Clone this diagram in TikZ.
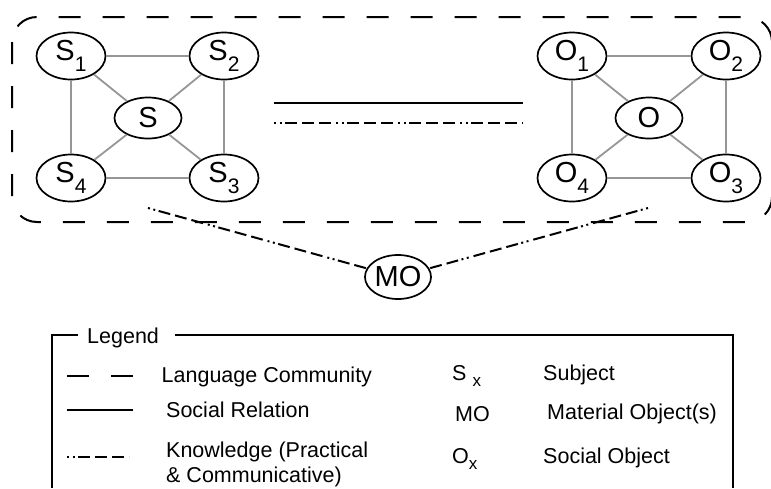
\documentclass[tikz,border=0pt]{standalone}
\usepackage{fontspec}
\setmainfont{Liberation Sans}
\usetikzlibrary{shapes.geometric}
\definecolor{linkgray}{RGB}{150,150,150}
\newcommand\nodetextfont{\fontsize{29}{32}\selectfont}
\newcommand\legendtextfont{\fontsize{21.5}{25}\selectfont}
\newcommand\nsub[1]{\raisebox{-11pt}{\fontsize{21}{21}\selectfont #1}}
\newcommand\lsub[1]{\raisebox{-6pt}{\fontsize{17}{17}\selectfont #1}}
\begin{document}
\begin{tikzpicture}[x=1pt,y=-1pt,
  every node/.style={inner sep=0pt},
  ent/.style={ellipse, draw, line width=1.7pt, fill=white,
    minimum width=69pt, minimum height=47pt, font=\nodetextfont},
  hub/.style={ent, minimum width=67pt, minimum height=41pt},
  link/.style={draw=linkgray, line width=1.8pt},
  community/.style={line width=2pt, dash pattern=on 22pt off 22pt},
  relation/.style={line width=2pt},
  knowledge/.style={line width=2pt,
    dash pattern=on 2pt off 3.5pt on 2pt off 3.5pt on 12pt off 5pt on 12pt off 5pt on 12pt off 5pt},
  lgtext/.style={anchor=base west, font=\legendtextfont},
  frame/.style={line width=1.8pt},
]
\useasboundingbox (0,0) rectangle (771,488);

% language community boundary
\draw[community, rounded corners=25pt] (12,17) rectangle (772,222);

% subject cluster
\node[ent] (S1) at (71,56) {S\nsub{1}};
\node[ent] (S2) at (224,56) {S\nsub{2}};
\node[ent] (S4) at (71,178) {S\nsub{4}};
\node[ent] (S3) at (224,178) {S\nsub{3}};
\node[hub] (S) at (148,118) {S};

% object cluster
\node[ent] (O1) at (572,56) {O\nsub{1}};
\node[ent] (O2) at (726,56) {O\nsub{2}};
\node[ent] (O4) at (572,178) {O\nsub{4}};
\node[ent] (O3) at (726,178) {O\nsub{3}};
\node[hub] (O) at (649,118) {O};

\foreach \c in {S,O}{
  \draw[link] (\c1) -- (\c2);
  \draw[link] (\c2) -- (\c3);
  \draw[link] (\c3) -- (\c4);
  \draw[link] (\c4) -- (\c1);
  \foreach \k in {1,2,3,4}{\draw[link] (\c) -- (\c\k);}
}

% relation and knowledge between the clusters
\coordinate (relA) at (274,103);
\coordinate (relB) at (523,103);
\coordinate (knA) at (274,123);
\coordinate (knB) at (523,123);
\draw[relation] (relA) -- (relB);
\draw[knowledge] (knA) -- (knB);

% material object
\node[ent, minimum width=66pt, minimum height=44pt] (MO) at (398,277) {MO};
\coordinate (kS) at (148,208);
\coordinate (kO) at (648,208);
\draw[knowledge] (kS) -- (MO);
\draw[knowledge] (kO) -- (MO);

% legend frame
\draw[frame] (78,335) -- (52,335) -- (52,488);
\draw[frame] (175,335) -- (733,335) -- (733,488);
\node[lgtext] (lgtitle) at (87,343) {Legend};

% legend symbols
\coordinate (l1a) at (67,376); \coordinate (l1b) at (135,376);
\coordinate (l2a) at (67,410); \coordinate (l2b) at (133,410);
\coordinate (l3a) at (67,457); \coordinate (l3b) at (129,457);
\draw[community] (l1a) -- (l1b);
\draw[relation] (l2a) -- (l2b);
\draw[knowledge] (l3a) -- (l3b);

\node[lgtext] (t1) at (161.5,382) {Language Community};
\node[lgtext] (t2) at (166,417) {Social Relation};
\node[lgtext] (t3a) at (166,457) {Knowledge (Practical};
\node[lgtext] (t3b) at (166,482) {\& Communicative)};

\node[lgtext] (k1) at (452,380) {S \lsub{x}};
\node[lgtext] (k2) at (455,421) {MO};
\node[lgtext] (k3) at (452,463) {O\lsub{x}};

\node[lgtext] (d1) at (543,380) {Subject};
\node[lgtext] (d2) at (547,419) {Material Object(s)};
\node[lgtext] (d3) at (543,463) {Social Object};
\end{tikzpicture}
\end{document}
